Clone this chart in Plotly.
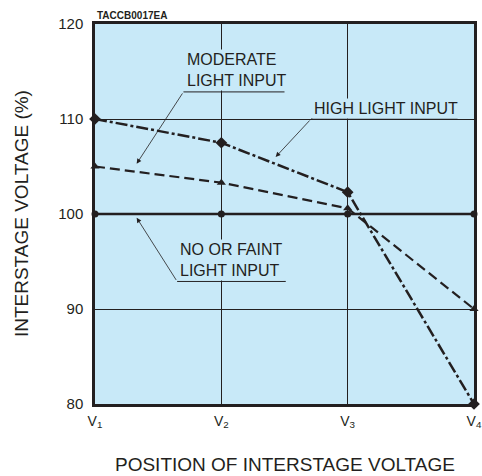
import plotly.graph_objects as go

positions = [1, 2, 3, 4]
tick_labels = ["V<sub>1</sub>", "V<sub>2</sub>", "V<sub>3</sub>", "V<sub>4</sub>"]
y_ticks = [80, 90, 100, 110, 120]
high_light = [110, 107.5, 102.3, 80]
moderate_light = [105, 103.3, 100.6, 90]
no_light = [100, 100, 100, 100]

INK = "#231F20"
BG = "#C8E9F8"
FONT = "Liberation Sans, Arial, sans-serif"

fig = go.Figure()
fig.add_trace(go.Scatter(x=positions, y=no_light, mode="lines+markers",
                         line=dict(color=INK, width=2.5),
                         marker=dict(symbol="circle", size=7, color=INK),
                         cliponaxis=False, showlegend=False))
fig.add_trace(go.Scatter(x=positions, y=moderate_light, mode="lines+markers",
                         line=dict(color=INK, width=2.2, dash="10px,5px"),
                         marker=dict(symbol="triangle-up", size=8, color=INK),
                         cliponaxis=False, showlegend=False))
fig.add_trace(go.Scatter(x=positions, y=high_light, mode="lines+markers",
                         line=dict(color=INK, width=2.5, dash="12px,3px,3px,3px"),
                         marker=dict(symbol="diamond", size=9, color=INK),
                         cliponaxis=False, showlegend=False))

lab_font = dict(family=FONT, size=16, color=INK)

def label(text, x, y, ul_x0, ul_x1, ul_y, tip_x, tip_y):
    fig.add_annotation(x=x, y=y, xref="x", yref="y", text=text, showarrow=False,
                       font=lab_font, bgcolor=BG, align="left",
                       xanchor="left", yanchor="bottom", borderpad=1)
    fig.add_shape(type="line", x0=ul_x0, x1=ul_x1, y0=ul_y, y1=ul_y,
                  xref="x", yref="y", line=dict(color=INK, width=1))
    fig.add_annotation(x=tip_x, y=tip_y, ax=ul_x0, ay=ul_y, xref="x", yref="y",
                       axref="x", ayref="y", text="", showarrow=True,
                       arrowhead=2, arrowsize=1.2, arrowwidth=0.8, arrowcolor=INK)

label("MODERATE<br>LIGHT INPUT", 1.71, 112.95, 1.70, 2.50, 112.85, 1.33, 105.3)
label("HIGH LIGHT INPUT", 2.72, 110.0, 2.71, 3.87, 110.0, 2.43, 106.0)
label("NO OR FAINT<br>LIGHT INPUT", 1.66, 93.0, 1.65, 2.51, 92.9, 1.33, 99.6)

fig.add_annotation(x=0, y=1, xref="paper", yref="paper", text="<b>TACCB0017EA</b>",
                   showarrow=False, xanchor="left", yanchor="bottom", yshift=1,
                   font=dict(family=FONT, size=10, color=INK))
fig.add_annotation(x=0.5, y=-0.16, xref="paper", yref="paper",
                   text="POSITION OF INTERSTAGE VOLTAGE", showarrow=False,
                   font=dict(family=FONT, size=19, color=INK), yanchor="middle")
fig.add_annotation(x=-0.195, y=0.5, xref="paper", yref="paper",
                   text="INTERSTAGE VOLTAGE (%)", showarrow=False, textangle=-90,
                   font=dict(family=FONT, size=19, color=INK), xanchor="center")

fig.update_xaxes(range=[1, 4], tickvals=positions, ticktext=tick_labels,
                 showgrid=True, gridcolor=INK, gridwidth=1, zeroline=False,
                 showline=True, linecolor=INK, linewidth=2.5, mirror=True,
                 ticks="", ticklen=0, ticklabelstandoff=2, automargin=False,
                 tickfont=dict(family=FONT, size=14, color=INK))
fig.update_yaxes(range=[80, 120], tickvals=y_ticks,
                 showgrid=True, gridcolor=INK, gridwidth=1, zeroline=False,
                 showline=True, linecolor=INK, linewidth=2.5, mirror=True,
                 ticks="", ticklen=0, ticklabelstandoff=6, automargin=False,
                 tickfont=dict(family=FONT, size=15, color=INK))
fig.update_layout(width=482, height=476, margin=dict(l=95, r=8, t=24, b=72),
                  plot_bgcolor=BG, paper_bgcolor="white", showlegend=False)
fig.write_html("out.html", config={"displayModeBar": False},
               post_script="document.body.style.margin='0';")
